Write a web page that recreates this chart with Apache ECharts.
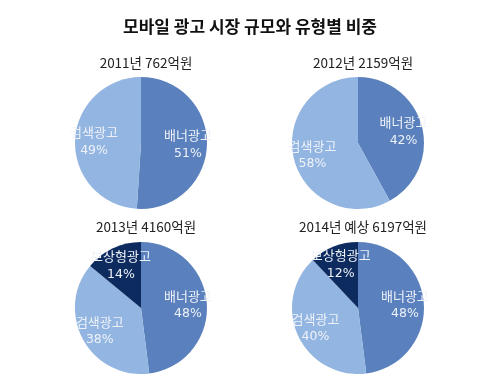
<!DOCTYPE html>
<html>
<head>
<meta charset="utf-8">
<script src="https://cdn.jsdelivr.net/npm/echarts@6/dist/echarts.min.js"></script>
<style>
html,body{margin:0;padding:0;background:#fff;}
#c{width:500px;height:375px;}
</style>
</head>
<body>
<div id="c"></div>
<script>
const mainTitle = '모바일 광고 시장 규모와 유형별 비중';
const pieTitles = ['2011년 762억원', '2012년 2159억원', '2013년 4160억원', '2014년 예상 6197억원'];
const categories = ['배너광고', '검색광고', '보상형광고'];
const banner = [51, 42, 48, 48];
const search = [49, 58, 38, 40];
const reward = [0, 0, 14, 12];

const colors = ['#5A81BD', '#93B5E1', '#0E2B5F'];
const centers = [[141, 143], [358, 143], [141, 308], [358, 308]];
const titleTops = [51, 51, 215, 215];
const font = '"Noto Sans CJK KR", "Noto Sans", sans-serif';

const chart = echarts.init(document.getElementById('c'));
const titles = [{
  text: mainTitle, left: 'center', top: 13,
  textStyle: {fontFamily: font, fontSize: 17, fontWeight: 'bold', color: '#111'}
}];
const series = [];
pieTitles.forEach((t, i) => {
  titles.push({
    text: t, left: centers[i][0], top: titleTops[i], textAlign: 'center',
    textStyle: {fontFamily: font, fontSize: 13.5, fontWeight: 'normal', color: '#222'}
  });
  const vals = [banner[i], search[i], reward[i]];
  const data = [];
  vals.forEach((v, k) => {
    if (v > 0) data.push({name: categories[k], value: v, itemStyle: {color: colors[k]}});
  });
  series.push({
    type: 'pie', center: centers[i], radius: 66, startAngle: 90, clockwise: true,
    silent: true, label: {show: false}, labelLine: {show: false},
    itemStyle: {borderWidth: 0}, data: data
  });
  series.push({
    type: 'pie', center: centers[i], radius: 88, startAngle: 90, clockwise: true,
    silent: true, z: 5,
    itemStyle: {color: 'rgba(0,0,0,0)', borderWidth: 0},
    label: {
      show: true, position: 'inside', formatter: '{n|{b}}\n{p|{c}%}',
      color: '#EEF2F8',
      rich: {
        n: {fontFamily: font, fontSize: 13, lineHeight: 18, color: '#EEF2F8'},
        p: {fontFamily: '"DejaVu Sans", sans-serif', fontSize: 12.5, lineHeight: 18, color: '#EEF2F8'}
      }
    },
    labelLine: {show: false},
    data: data.map(d => ({name: d.name, value: d.value}))
  });
});
chart.setOption({
  backgroundColor: '#fff',
  animation: false,
  title: titles,
  series: series
});
</script>
</body>
</html>
